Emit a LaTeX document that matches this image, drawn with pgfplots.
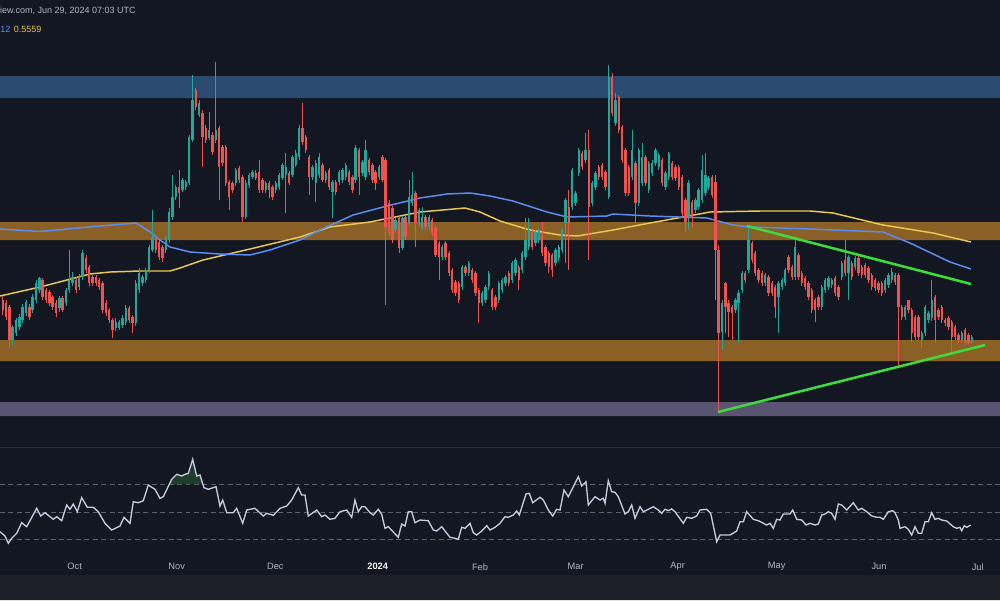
\documentclass[border=0pt]{standalone}
\usepackage{fontspec}
\setmainfont{Liberation Sans}
\usepackage{pgfplots}
\usepackage{pgfplotstable}
\pgfplotsset{compat=1.18}

\definecolor{bg}{HTML}{131722}
\definecolor{strip}{HTML}{1D2029}
\definecolor{sep}{HTML}{2A2E39}
\definecolor{upc}{HTML}{26A69A}
\definecolor{dnc}{HTML}{EF5350}
\definecolor{bandblue}{HTML}{2B4A70}
\definecolor{bandorange}{HTML}{8A6026}
\definecolor{bandpurple}{HTML}{595471}
\definecolor{ma100}{HTML}{5B8DEF}
\definecolor{ma200}{HTML}{E8C84E}
\definecolor{trend}{HTML}{3BDC3B}
\definecolor{rsiline}{HTML}{C3CCDC}
\definecolor{rsidash}{HTML}{5D606B}
\definecolor{rsifill}{HTML}{1F3D2C}
\definecolor{txt}{HTML}{B2B5BE}

\pgfplotsset{
  candle/.style 2 args={forget plot, only marks, mark size=0pt, mark options={draw=none, fill=none},
    error bars/.cd, y dir=minus, y explicit, error mark=none,
    error bar style={line width=#1, draw=#2}},
}

% daily candles, i = day index; o h l c (screen units, y grows downward)
\pgfplotstableread{
i o h l c
3 340 325 345 327
4 333 318 336 320
5 327 314 330 317
6 320 304 323 307
7 313 300 316 302
9 310 294 313 297
10 300 280 303 283
11 290 277 293 278
17 308 296 312 298
19 303 288 306 290
20 290 250 293 280
21 283 272 286 277
23 287 274 290 277
24 277 250 280 253
34 328 318 331 322
35 328 320 330 322
36 325 315 328 318
37 322 305 325 308
40 323 280 326 283
41 290 268 293 273
42 283 275 286 277
43 280 268 283 270
44 270 245 273 247
45 250 210 252 237
49 250 235 253 237
50 240 208 243 212
51 217 175 220 197
52 197 185 200 187
54 190 178 192 180
55 187 180 190 182
56 183 135 185 137
57 140 75 142 100
59 115 100 117 103
62 138 112 140 130
64 140 62 143 130
70 183 168 186 170
73 217 180 219 183
74 185 173 188 175
75 177 170 179 172
79 190 181 193 183
82 190 181 193 183
83 187 173 190 175
84 178 163 180 165
85 175 153 213 167
87 175 155 177 157
88 165 150 167 153
89 157 125 160 128
93 177 165 180 167
94 183 160 202 163
95 175 153 178 157
97 180 171 183 173
99 192 180 218 182
101 182 170 185 172
102 180 168 183 170
103 177 163 180 165
106 180 145 183 148
108 173 160 176 162
109 177 140 180 150
113 177 165 180 167
118 230 218 233 220
120 248 216 250 218
122 223 180 225 197
123 203 172 206 195
125 223 208 226 210
126 228 207 230 217
128 227 215 230 217
132 257 245 260 247
138 287 265 290 267
140 273 261 276 263
144 303 291 306 293
145 300 285 303 287
146 287 271 290 273
149 300 281 303 283
150 290 278 293 280
151 283 275 286 277
153 280 261 283 263
154 273 258 276 260
156 270 251 273 253
157 257 218 260 240
158 247 218 250 230
160 243 230 246 232
161 240 228 243 230
166 263 248 266 250
167 258 245 261 247
168 250 228 253 230
169 223 198 263 200
171 207 168 210 170
172 203 191 206 193
173 173 148 176 150
175 160 133 163 150
177 203 181 206 183
178 187 171 190 173
182 197 65 199 77
184 123 93 126 100
189 177 130 180 150
191 203 148 206 150
192 183 143 186 157
194 190 161 193 163
195 173 160 176 163
196 163 148 166 150
197 167 153 170 155
199 187 171 190 173
200 177 152 180 153
206 217 180 230 183
208 210 198 213 200
209 207 188 210 190
210 200 155 203 170
211 193 153 196 175
212 187 176 190 178
216 332 300 350 303
220 310 298 313 300
221 303 290 343 293
222 290 271 293 273
224 270 227 273 240
229 283 273 286 275
233 297 281 333 283
234 287 278 290 280
235 283 268 286 270
238 277 240 280 247
246 307 285 310 287
247 290 278 293 280
248 287 276 290 278
249 285 278 288 280
252 277 261 280 263
254 273 255 300 257
256 267 256 270 258
265 290 278 293 280
266 285 273 288 275
267 280 268 283 272
271 317 305 320 307
276 340 331 348 333
277 333 305 336 307
278 320 311 323 313
279 318 280 321 300
288 340 331 343 333
291 342 335 344 337
}\up

\pgfplotstableread{
i o h l c
0 300 296 315 310
1 303 300 320 317
2 307 305 348 340
8 307 304 320 317
12 280 278 300 297
13 290 288 303 300
14 292 290 306 303
15 297 295 310 307
16 303 300 317 313
18 298 296 312 310
22 280 277 293 290
25 258 255 273 270
26 267 265 286 283
27 277 275 286 283
28 277 275 286 283
29 280 278 290 287
30 283 281 313 310
31 303 300 316 313
32 310 308 323 320
33 320 318 338 330
38 308 306 323 320
39 317 315 333 323
46 238 236 253 250
47 242 240 260 257
48 247 245 262 258
53 187 170 208 193
58 90 88 110 107
60 113 110 167 137
61 128 125 143 140
63 135 132 155 152
65 128 126 200 167
66 147 145 166 163
67 147 145 186 183
68 182 180 210 197
69 183 181 193 190
71 168 166 183 180
72 177 175 222 217
76 173 170 180 178
77 172 160 193 190
78 180 178 193 190
80 183 181 198 190
81 187 185 200 197
86 173 171 185 183
90 128 103 145 142
91 137 135 153 150
92 157 155 195 177
96 165 163 182 180
98 170 168 190 187
100 182 180 195 192
104 172 170 185 182
105 177 175 193 190
107 150 148 195 177
110 160 158 175 172
111 165 163 183 180
112 172 170 190 183
114 157 155 182 180
115 160 158 305 227
116 203 200 236 233
117 208 206 243 240
119 218 216 253 248
121 217 215 240 237
124 193 191 247 223
127 217 215 230 227
129 220 218 236 233
130 228 226 257 255
131 243 241 280 257
133 243 241 260 257
134 253 251 276 273
135 270 268 293 290
136 282 280 296 293
137 283 281 303 300
139 267 265 276 273
141 270 268 283 280
142 273 271 296 293
143 290 288 323 303
147 290 288 310 307
148 297 295 310 307
152 273 271 286 283
155 267 265 290 280
159 232 230 250 247
162 235 222 256 253
163 247 245 266 263
164 253 251 273 267
165 255 253 277 270
170 207 190 270 223
174 153 151 170 167
176 150 130 260 207
179 167 165 180 177
180 165 163 180 177
181 172 170 190 187
183 77 73 116 113
185 97 95 133 130
186 127 125 163 160
187 150 148 196 193
188 167 165 196 193
190 163 161 223 203
193 157 155 186 183
198 160 158 186 183
201 163 161 180 177
202 167 165 181 178
203 167 165 190 187
204 177 175 216 213
205 200 198 232 222
207 202 200 228 218
213 177 175 198 195
214 182 175 300 250
215 250 245 412 333
217 283 282 333 307
218 303 300 337 312
219 307 305 340 313
223 273 271 283 280
225 243 241 263 260
226 253 251 276 273
227 270 268 283 280
228 273 271 286 283
230 277 275 296 293
231 283 281 296 293
232 287 285 318 307
236 257 255 273 270
237 267 265 280 277
239 255 253 280 277
240 273 271 286 283
241 278 276 290 287
242 283 281 300 297
243 290 288 313 310
244 300 298 322 310
245 297 295 310 307
250 278 276 296 293
251 287 285 300 297
253 260 240 276 273
255 263 261 280 277
257 258 256 276 273
258 267 265 278 275
259 265 263 278 275
260 268 266 283 280
261 275 273 290 287
262 280 278 291 288
263 283 281 293 290
264 283 281 296 293
268 275 273 285 282
269 275 273 365 307
270 307 305 320 317
272 300 300 313 310
273 310 308 342 333
274 317 315 340 337
275 317 315 340 337
280 297 295 343 320
281 310 308 320 317
282 307 305 323 320
283 320 318 326 323
284 318 316 330 327
285 322 320 352 337
286 327 325 340 337
287 335 333 343 340
289 330 328 345 342
290 335 333 345 343
}\dn

% RSI pane (screen units)
\pgfplotstableread{
x y
0 531.7
5 536
8.3 543.3
11.7 538.3
16.7 533.3
21.7 522.7
26.7 526.7
36.7 508.3
40.7 516
45 512.7
53.3 519.3
56.7 516.7
61.7 520.7
66.7 505
70 509.3
73.3 504
77.3 511.7
81.7 497.7
87.3 507.3
93.3 507.3
98.3 511.7
105 523.3
111.7 530
120 526
124 517.3
130 523.3
133.3 501.7
138.3 502.7
143.3 500.7
148.3 485
155 489.3
160 498.3
163.3 496.7
171.7 479.3
176.7 474.3
181.7 476
185 474.3
188.3 473.3
192.7 459.3
196.7 476
200 475
204 487.7
208.3 489.3
216 486.7
220 506
222.7 500
226.7 512.7
233.3 512.7
236.7 508.3
242.7 523.3
246.7 510
255 508.3
263.3 516
266.7 513.3
273.3 515.3
280 508.3
286.7 506
291.7 500
298.3 487.7
301.7 495
305 495
308.3 516
316.7 510
321.7 516.7
325 515
330 519.3
335 518.3
340 511.7
346.7 510
351.7 517.3
355 500
358.3 511.7
361.7 506.7
365 506.7
370 512.7
373.3 515
378.3 509.3
381.7 514.3
385 528.3
388.3 526.7
398.3 537.3
401.7 524
405 526
408.3 511.7
411.7 511.7
415 522.7
420 520
428.3 520.7
433.3 530
436.7 531
441.7 526.7
450 537.3
455 538.3
458.3 539.3
461.7 527.3
465 528.3
470 523.3
473.3 532.7
476.7 535
481.7 531
486.7 525.7
490 530
495 527.3
500 523.3
505 516.7
508.3 517.3
513.3 515
516.7 511
519.3 515
526 494
529.3 493.3
532.7 502.7
540 497.3
543.3 500
548.3 510
552.7 516
556.7 509.3
560 510
564 490
568.3 496.7
578.3 476.7
581.7 486
586 481.7
588.3 505
595 496.7
600 500
603.3 498.3
605 503.3
608.3 480.7
611.7 491.7
615 492.3
618.3 496.7
625 514
628.3 511.7
631.7 505
635 518.3
640 506.7
643.3 511.7
648.3 509.3
653.3 506.7
658.3 510
661.7 513.3
665 509.3
668.3 510.7
671.7 509
675 511.7
683.3 523.3
686.7 517.3
691.7 518.3
696.7 516
700 510
706.7 509.3
710.7 513.3
716.7 541.7
720 535
730 535
736.7 531
740 521.7
743.3 521.7
746.7 511.7
753.3 519.3
758.3 520.7
766.7 525
770 523.3
773.3 528.3
776.7 519.3
780 520
783.3 514
790 514
792.7 510
796.7 519.3
801.7 520
806 525
810 523.3
815 525
818.3 524
821.7 515
825 514
828.3 511.7
831.7 513.3
835 519.3
838.3 504
841.7 505
846.7 510
853.3 502.7
858.3 510
861.7 508.3
866.7 511.7
871.7 516
876.7 517.3
880 517.3
883.3 519.3
888.3 511.7
892.7 510.7
895 512.7
898.3 520
900 528.3
905 526.7
908.3 529.3
911.7 535
915 526.7
918.3 533.3
921.7 533.3
925 521.7
928.3 521.7
931.7 512.7
935 519.3
938.3 518.3
941.7 520
946.7 521
953.3 526.7
956.7 528.3
960 527.3
961.7 530.7
964.3 525.7
966.7 527.3
970.7 525
}\rsi

\begin{document}
\begin{tikzpicture}
\useasboundingbox (0,0) rectangle (25,15);
\fill[bg] (0,0) rectangle (25,15);
\begin{axis}[
    at={(0,0)}, anchor=south west,
    width=25cm, height=15cm, scale only axis,
    xmin=0, xmax=1000, ymin=0, ymax=600,
    y dir=reverse,
    hide axis,
    clip=true,
]
% time scale strip and pane separator
\addplot[fill=strip, draw=none, forget plot] coordinates {(0,575) (1000,575) (1000,600) (0,600) (0,575)};
\addplot[sep, line width=0.8pt, forget plot] coordinates {(0,447.5) (1000,447.5)};

% zones
\addplot[fill=bandblue, draw=none, forget plot] coordinates {(0,76) (1000,76) (1000,98) (0,98) (0,76)};
\addplot[fill=bandorange, draw=none, forget plot] coordinates {(0,222) (1000,222) (1000,240) (0,240) (0,222)};
\addplot[fill=bandorange, draw=none, forget plot] coordinates {(0,340) (1000,340) (1000,361) (0,361) (0,340)};
\addplot[fill=bandpurple, draw=none, forget plot] coordinates {(0,402) (1000,402) (1000,416) (0,416) (0,402)};

% moving averages
\addplot[ma200, line width=1.05pt, forget plot] coordinates {
(0,296) (40,287) (90,274) (110,272) (140,271) (170,271) (180,268) (203,260) (250,249)
(300,237) (330,227) (370,222) (420,212) (465,208) (480,212) (500,221) (530,230) (560,235)
(577,236) (613,230) (650,223) (683,217) (710,212) (760,211) (810,211) (833,213) (883,225)
(933,233) (971,242)};
\addplot[ma100, line width=1.05pt, forget plot] coordinates {
(0,229) (40,231.5) (100,226) (136,223) (150,232) (160,240) (170,247) (190,252) (220,254)
(250,255) (270,250) (300,240) (320,230) (353,215) (387,206) (420,198) (447,194) (470,193)
(490,196) (513,201) (547,212) (567,217) (607,216) (613,214) (650,216) (707,218) (733,225)
(750,227) (810,229) (883,232) (910,243) (950,262) (971,269)};

% candles: wicks
\addplot[candle={0.6pt}{upc}]
  table[x expr=2.7+3.33*\thisrow{i}, y=l, y error minus expr=\thisrow{l}-\thisrow{h}] {\up};
\addplot[candle={0.6pt}{dnc}]
  table[x expr=2.7+3.33*\thisrow{i}, y=l, y error minus expr=\thisrow{l}-\thisrow{h}] {\dn};
% candles: bodies
\addplot[candle={1.7pt}{upc}]
  table[x expr=2.7+3.33*\thisrow{i}, y=o, y error minus expr=\thisrow{o}-\thisrow{c}] {\up};
\addplot[candle={1.7pt}{dnc}]
  table[x expr=2.7+3.33*\thisrow{i}, y=c, y error minus expr=\thisrow{c}-\thisrow{o}] {\dn};

% trend lines
\addplot[trend, line width=1.8pt, forget plot] coordinates {(747,226) (971,284)};
\addplot[trend, line width=1.8pt, forget plot] coordinates {(718,412) (985,345)};

% RSI pane
\addplot[fill=rsifill, draw=none, forget plot] coordinates {
(169.5,484) (171.7,479.3) (176.7,474.3) (181.7,476) (185,474.3) (188.3,473.3)
(192.7,459.3) (196.7,476) (200,475) (203,484) (169.5,484)};
\addplot[rsidash, line width=0.6pt, dash pattern=on 3.5pt off 2.5pt, forget plot] coordinates {(0,484) (1000,484)};
\addplot[rsidash, line width=0.6pt, dash pattern=on 3.5pt off 2.5pt, forget plot] coordinates {(0,512) (1000,512)};
\addplot[rsidash, line width=0.6pt, dash pattern=on 3.5pt off 2.5pt, forget plot] coordinates {(0,539) (1000,539)};
\addplot[rsiline, line width=0.95pt, forget plot] table[x=x, y=y] {\rsi};

% texts
\node[anchor=west, text=txt, font=\fontsize{6.4}{7}\selectfont, inner sep=0pt] at (axis cs:-5.9,10.5) {View.com, Jun 29, 2024 07:03 UTC};
\node[anchor=west, text=ma100, font=\fontsize{6.4}{7}\selectfont, inner sep=0pt] at (axis cs:0,29) {12};
\node[anchor=west, text=ma200, font=\fontsize{6.4}{7}\selectfont, inner sep=0pt] at (axis cs:13.5,29) {0.5559};

\foreach \xx/\lab in {74.7/Oct, 176.7/Nov, 275.3/Dec, 480/Feb, 575.7/Mar, 677.7/Apr, 776.7/May, 879/Jun, 977.7/Jul} {
  \edef\temp{\noexpand\node[text=txt, font=\noexpand\fontsize{6.6}{7}\noexpand\selectfont, inner sep=0pt] at (axis cs:\xx,566.7) {\lab};}
  \temp
}
\node[text=white!85!txt, font=\fontsize{6.6}{7}\selectfont\bfseries, inner sep=0pt] at (axis cs:377.7,566.7) {2024};
\end{axis}
\end{tikzpicture}
\end{document}
